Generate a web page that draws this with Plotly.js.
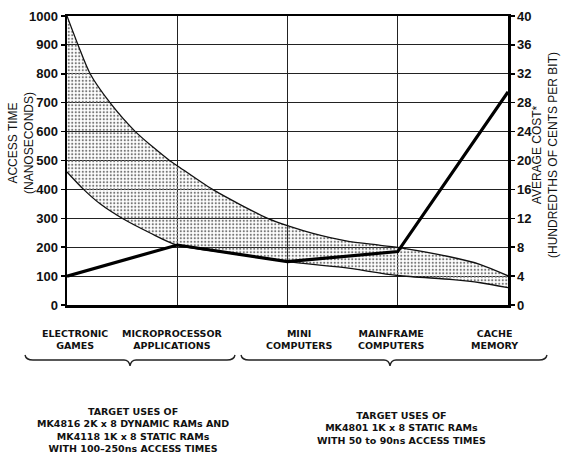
<!DOCTYPE html>
<html>
<head>
<meta charset="utf-8">
<script src="https://cdn.plot.ly/plotly-3.0.1.min.js"></script>
<style>html,body{margin:0;padding:0;background:#fff;}#chart{width:561px;height:453px;}</style>
</head>
<body>
<div id="chart"></div>
<script>
// ---------- DATA ----------
const categories = ["ELECTRONIC<br>GAMES", "MICROPROCESSOR<br>APPLICATIONS", "MINI<br>COMPUTERS", "MAINFRAME<br>COMPUTERS", "CACHE<br>MEMORY"];
const categoryIndex = [0, 1, 2, 3, 4];

// Access time band (nanoseconds), upper edge
const upperX  = [0, 0.1, 0.21, 0.39, 0.62, 0.93, 1.0, 1.32, 1.82, 2.02, 2.23, 2.53, 2.83, 3.04, 3.47, 3.75, 4.0];
const upperNs = [1000, 900, 800, 700, 600, 500, 482, 400, 300, 272, 248, 222, 207, 197, 167, 140, 101];
// Access time band (nanoseconds), lower edge
const lowerX  = [0, 0.15, 0.3, 0.5, 0.75, 1.0, 1.5, 2.0, 2.5, 3.0, 3.5, 3.75, 4.0];
const lowerNs = [460, 400, 350, 300, 250, 207, 178, 150, 130, 102, 88, 77, 60];

// Average cost (hundredths of cents per bit)
const costValues = [4.0, 8.3, 6.0, 7.4, 29.5];

const leftTicks  = [0, 100, 200, 300, 400, 500, 600, 700, 800, 900, 1000];
const rightTicks = [0, 4, 8, 12, 16, 20, 24, 28, 32, 36, 40];

const leftTitle  = "ACCESS TIME<br>(NANOSECONDS)";
const rightTitle = "AVERAGE COST*<br>(HUNDREDTHS OF CENTS PER BIT)";
const leftNote  = "TARGET USES OF<br>MK4816 2K x 8 DYNAMIC RAMs AND<br>MK4118 1K x 8 STATIC RAMs<br>WITH 100–250ns ACCESS TIMES";
const rightNote = "TARGET USES OF<br>MK4801 1K x 8 STATIC RAMs<br>WITH 50 to 90ns ACCESS TIMES";

// ---------- LAYOUT HELPERS ----------
const W = 561, H = 453, ML = 67, MR = 53, MT = 16, MB = 148;
const PW = W - ML - MR, PH = H - MT - MB;
const px = x => (x - ML) / PW;
const py = y => (H - MB - y) / PH;

const FONT = "Liberation Sans, Arial, sans-serif";
const BOLDFONT = "DejaVu Sans, Verdana, sans-serif";
const labelShift = [8, -5, 11, -7, -14];

function bracePath(x0, x1, xm, yTop, yMid, yTip) {
  const p = (x, y) => px(x).toFixed(4) + "," + py(y).toFixed(4);
  return "M" + p(x0, yTop) + " Q" + p(x0 + 1, yMid) + " " + p(x0 + 8, yMid) +
         " L" + p(xm - 6, yMid) + " Q" + p(xm - 1, yMid) + " " + p(xm, yTip) +
         " Q" + p(xm + 1, yMid) + " " + p(xm + 6, yMid) +
         " L" + p(x1 - 8, yMid) + " Q" + p(x1 - 1, yMid) + " " + p(x1, yTop);
}

const traces = [
  {x: lowerX, y: lowerNs, type: "scatter", mode: "lines", line: {color: "#111", width: 1.3, shape: "spline", smoothing: 0.8}, hoverinfo: "skip", showlegend: false},
  {x: upperX, y: upperNs, type: "scatter", mode: "lines", fill: "tonexty",
   fillcolor: "rgba(0,0,0,0)",
   fillpattern: {shape: ".", size: 3.5, solidity: 0.3, fgcolor: "#777", bgcolor: "rgba(255,255,255,0)"},
   line: {color: "#111", width: 1.3, shape: "spline", smoothing: 0.8}, hoverinfo: "skip", showlegend: false},
  {x: categoryIndex, y: costValues, yaxis: "y2", type: "scatter", mode: "lines", line: {color: "#000", width: 3.2}, showlegend: false}
];

const annotations = [];
categories.forEach((c, i) => {
  annotations.push({x: categoryIndex[i], xref: "x", y: py(339), yref: "paper", xanchor: "center", yanchor: "middle",
    text: c, showarrow: false, xshift: labelShift[i],
    font: {family: BOLDFONT, size: 9.5, color: "#111", weight: "bold"}, align: "center"});
});
annotations.push({x: px(21), y: py(143), xref: "paper", yref: "paper", xanchor: "center", yanchor: "middle",
  text: leftTitle, textangle: -90, showarrow: false,
  font: {family: FONT, size: 12, color: "#111"}, align: "center"});
annotations.push({x: px(545), y: py(155), xref: "paper", yref: "paper", xanchor: "center", yanchor: "middle",
  text: rightTitle, textangle: -90, showarrow: false,
  font: {family: FONT, size: 12, color: "#111"}, align: "center"});
annotations.push({x: px(133), y: py(430), xref: "paper", yref: "paper", xanchor: "center", yanchor: "middle",
  text: leftNote, showarrow: false,
  font: {family: BOLDFONT, size: 9.5, color: "#111", weight: "bold"}, align: "center"});
annotations.push({x: px(401), y: py(428), xref: "paper", yref: "paper", xanchor: "center", yanchor: "middle",
  text: rightNote, showarrow: false,
  font: {family: BOLDFONT, size: 9.5, color: "#111", weight: "bold"}, align: "center"});

const shapes = [
  {type: "path", xref: "paper", yref: "paper", path: bracePath(25, 235, 130, 355, 360, 366), line: {color: "#222", width: 1.4}},
  {type: "path", xref: "paper", yref: "paper", path: bracePath(241, 547, 390, 355, 360, 366), line: {color: "#222", width: 1.4}}
];

const layout = {
  width: W, height: H,
  margin: {l: ML, r: MR, t: MT, b: MB, pad: 0},
  paper_bgcolor: "#fff", plot_bgcolor: "#fff",
  showlegend: false,
  font: {family: FONT, color: "#111"},
  xaxis: {range: [0, 4], tickvals: categoryIndex, showticklabels: false, ticks: "",
    showgrid: true, gridcolor: "#222", gridwidth: 1, zeroline: false,
    showline: true, linecolor: "#000", linewidth: 2.5, mirror: true, fixedrange: true},
  yaxis: {range: [0, 1000], tickvals: leftTicks, ticks: "outside", ticklen: 4, tickwidth: 1.5, tickcolor: "#000",
    showgrid: true, gridcolor: "#222", gridwidth: 1, zeroline: false,
    showline: true, linecolor: "#000", linewidth: 2.5,
    tickfont: {family: FONT, size: 13, color: "#111", weight: "bold"}, fixedrange: true},
  yaxis2: {range: [0, 40], tickvals: rightTicks, overlaying: "y", side: "right", ticks: "outside", ticklen: 4, tickwidth: 1.5, tickcolor: "#000",
    showgrid: false, zeroline: false, showline: true, linecolor: "#000", linewidth: 2.5,
    tickfont: {family: FONT, size: 13, color: "#111", weight: "bold"}, fixedrange: true},
  annotations: annotations,
  shapes: shapes
};

Plotly.newPlot("chart", traces, layout, {staticPlot: true, displayModeBar: false});
</script>
</body>
</html>
